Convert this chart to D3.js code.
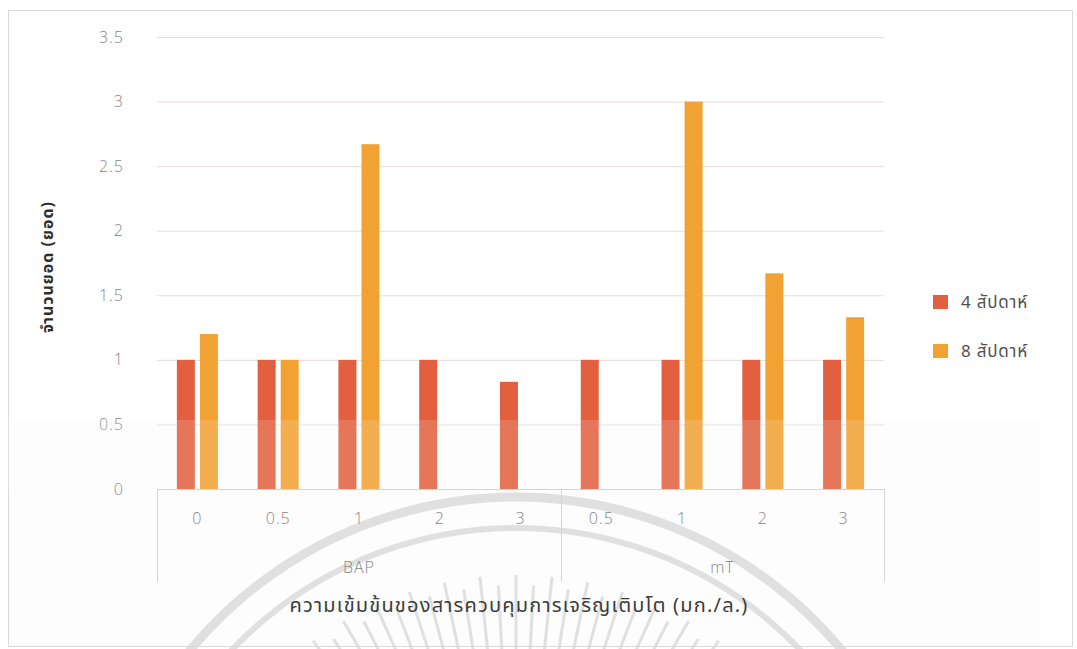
<!DOCTYPE html>
<html>
<head>
<meta charset="utf-8">
<script src="https://cdn.jsdelivr.net/npm/d3@7/dist/d3.min.js"></script>
<style>
  html, body { margin: 0; padding: 0; background: #fff; }
  svg { display: block; }
  text { font-family: "Noto Sans Thai", "Open Sans", "Noto Sans", sans-serif; }
</style>
</head>
<body>
<svg id="chart" width="1077" height="649"></svg>
<script>
// Shoot counts by growth regulator and concentration
const groups = ["BAP", "mT"];
const concentrations = ["0", "0.5", "1", "2", "3", "0.5", "1", "2", "3"];
const groupOf = ["BAP", "BAP", "BAP", "BAP", "BAP", "mT", "mT", "mT", "mT"];
const seriesNames = ["4 สัปดาห์", "8 สัปดาห์"];
const week4 = [1, 1, 1, 1, 0.83, 1, 1, 1, 1];
const week8 = [1.2, 1, 2.67, 0, 0, 0, 3, 1.67, 1.33];
const yTicks = [0, 0.5, 1, 1.5, 2, 2.5, 3, 3.5];
const yTitle = "จำนวนยอด (ยอด)";
const xTitle = "ความเข้มข้นของสารควบคุมการเจริญเติบโต (มก./ล.)";

const colors = ["#E2603F", "#F1A233"];

const svg = d3.select("#chart");
const plot = { left: 157, right: 884, top: 37, bottom: 489 };

// slightly toned lower band of the page
svg.append("rect").attr("x", 8).attr("y", 420).attr("width", 1032).attr("height", 226)
  .attr("fill", "#fdfdfd");

// faint seal watermark behind the footer
const wm = svg.append("g").attr("fill", "none").attr("stroke", "#e0e0e0");
const cx = 516, cy = 920;
const arc = (r) => d3.arc()({ innerRadius: r, outerRadius: r, startAngle: -Math.PI / 2.4, endAngle: Math.PI / 2.4 });
wm.append("path").attr("transform", `translate(${cx},${cy})`).attr("d", arc(423)).attr("stroke-width", 9);
wm.append("path").attr("transform", `translate(${cx},${cy})`).attr("d", arc(392)).attr("stroke-width", 6);
d3.range(-36, 37, 3).forEach(deg => {
  const a = (deg - 90) * Math.PI / 180;
  const r0 = 250, r1 = (Math.abs(deg) % 6 === 0) ? 345 : 335;
  wm.append("line")
    .attr("x1", cx + r0 * Math.cos(a)).attr("y1", cy + r0 * Math.sin(a))
    .attr("x2", cx + r1 * Math.cos(a)).attr("y2", cy + r1 * Math.sin(a))
    .attr("stroke-width", 3);
});

// outer frame
svg.append("rect").attr("x", 8.5).attr("y", 10.5).attr("width", 1064).attr("height", 636)
  .attr("fill", "none").attr("stroke", "#d9d9d9");

const keys = concentrations.map((c, i) => groupOf[i] + "|" + c);

const x0 = d3.scaleBand().domain(keys).range([plot.left, plot.right]).padding(0);
const bw = x0.bandwidth();
const x1 = d3.scaleBand().domain(seriesNames).range([bw * 0.246, bw * 0.754]).paddingInner(0.22).paddingOuter(0);
const y = d3.scaleLinear().domain([0, 3.5]).range([plot.bottom, plot.top]);

const tickFont = (sel) => sel.attr("fill", "#858585")
  .style("font-size", "16px").style("letter-spacing", "1px")
  .style("font-family", "'Open Sans', sans-serif").style("font-weight", 300);

// gridlines and value labels
const yAxis = d3.axisLeft(y).tickValues(yTicks).tickSize(-(plot.right - plot.left)).tickFormat(d3.format("~g"));
const gy = svg.append("g").attr("transform", `translate(${plot.left},0)`).call(yAxis);
gy.select(".domain").remove();
gy.selectAll(".tick line").attr("stroke", "#e6dcdc").attr("stroke-width", 1);
gy.selectAll(".tick text").attr("x", -33).call(tickFont);

// bars
const rows = keys.map((k, i) => ({ key: k, vals: [week4[i], week8[i]] }));
const gBars = svg.append("g");
rows.forEach(r => {
  r.vals.forEach((v, j) => {
    if (v <= 0) return;
    gBars.append("rect")
      .attr("x", x0(r.key) + x1(seriesNames[j]))
      .attr("y", y(v))
      .attr("width", x1.bandwidth())
      .attr("height", y(0) - y(v))
      .attr("fill", colors[j]);
  });
});

// lighter lower band over the bars
svg.append("rect").attr("x", 8).attr("y", 420).attr("width", 1032).attr("height", plot.bottom - 420)
  .attr("fill", "#ffffff").attr("opacity", 0.14);

// category axis: baseline, box lines and labels
const axisColor = "#d4d4d4";
const boxBottom = 582;
svg.append("line").attr("x1", plot.left).attr("x2", plot.right).attr("y1", plot.bottom + 0.5).attr("y2", plot.bottom + 0.5)
  .attr("stroke", axisColor);
const groupEdges = [x0(keys[0]), x0(keys[5]), plot.right];
groupEdges.forEach(xe => {
  svg.append("line").attr("x1", Math.round(xe) + 0.5).attr("x2", Math.round(xe) + 0.5)
    .attr("y1", plot.bottom).attr("y2", boxBottom).attr("stroke", axisColor);
});

const xAxis = d3.axisBottom(x0).tickSize(0).tickFormat((d, i) => concentrations[i]);
const gx = svg.append("g").attr("transform", `translate(0,${plot.bottom})`).call(xAxis);
gx.select(".domain").remove();
gx.selectAll(".tick text").attr("y", 0).attr("dy", "35px").call(tickFont);

groups.forEach((g, gi) => {
  const xa = groupEdges[gi], xb = groupEdges[gi + 1];
  svg.append("text").attr("x", (xa + xb) / 2).attr("y", 573).attr("text-anchor", "middle")
    .call(tickFont).text(g);
});

// axis titles
svg.append("text").attr("x", 519).attr("y", 612).attr("text-anchor", "middle")
  .attr("fill", "#3c3c3c").style("font-size", "20px").style("letter-spacing", "1.2px").text(xTitle);

svg.append("text").attr("transform", "translate(53,267) rotate(-90)").attr("text-anchor", "middle")
  .attr("fill", "#2e2e2e").style("font-size", "16px").style("letter-spacing", "1px")
  .style("font-weight", 700).text(yTitle);

// legend
const legend = svg.append("g");
seriesNames.forEach((s, i) => {
  const ly = 295 + i * 49;
  legend.append("rect").attr("x", 933).attr("y", ly).attr("width", 15).attr("height", 14).attr("fill", colors[i]);
  legend.append("text").attr("x", 961).attr("y", ly + 13).attr("fill", "#505050")
    .style("font-size", "17px").style("letter-spacing", "0.8px").text(s);
});
</script>
</body>
</html>
